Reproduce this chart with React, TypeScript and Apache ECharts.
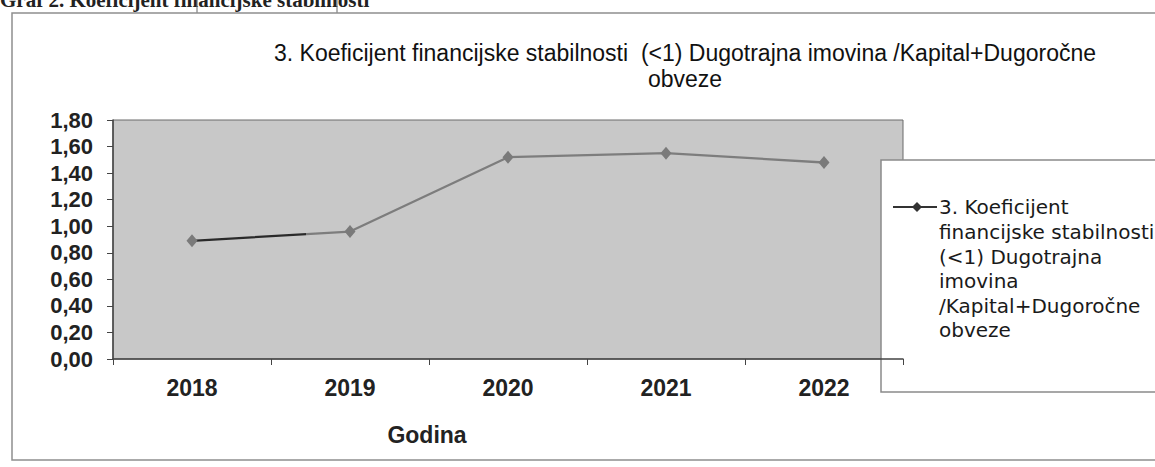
import React, { useEffect, useRef } from "react";
import * as echarts from "echarts";

const years = ["2018", "2019", "2020", "2021", "2022"];
const stability = [0.89, 0.96, 1.52, 1.55, 1.48];
const seriesName =
  "3. Koeficijent financijske stabilnosti  (<1) Dugotrajna imovina /Kapital+Dugoročne obveze";
const titleText =
  "3. Koeficijent financijske stabilnosti  (<1) Dugotrajna imovina /Kapital+Dugoročne\nobveze";
const legendLines = [
  "3. Koeficijent",
  "financijske stabilnosti",
  "(<1) Dugotrajna",
  "imovina",
  "/Kapital+Dugoročne",
  "obveze",
];
const pageCaption = "Graf 2. Koeficijent financijske stabilnosti";
const xAxisName = "Godina";

export default function App() {
  const ref = useRef<HTMLDivElement>(null);
  useEffect(() => {
    if (!ref.current) return;
    const chart = echarts.init(ref.current, null, { renderer: "svg" });
    const sans = "'Liberation Sans', Arial, sans-serif";
    chart.setOption({
      animation: false,
      backgroundColor: "#ffffff",
      title: [
        {
          text: titleText,
          left: 680,
          top: 35,
          textAlign: "center",
          textStyle: {
            fontFamily: sans,
            fontWeight: "normal",
            fontSize: 23,
            lineHeight: 26,
            color: "#111",
          },
        },
      ],
      grid: {
        left: 113,
        top: 120,
        width: 790,
        height: 239,
        show: true,
        backgroundColor: "#c8c8c8",
        borderColor: "#6a6a6a",
        borderWidth: 1,
      },
      xAxis: {
        type: "category",
        data: years,
        boundaryGap: true,
        name: xAxisName,
        nameLocation: "middle",
        nameGap: 64,
        nameTextStyle: {
          fontFamily: sans,
          fontWeight: "bold",
          fontSize: 23,
          color: "#222",
          padding: [0, 162, 0, 0],
        },
        axisLine: { show: true, lineStyle: { color: "#444", width: 1.5 } },
        axisTick: { show: true, length: 6, lineStyle: { color: "#444" } },
        axisLabel: {
          fontFamily: sans,
          fontWeight: "bold",
          fontSize: 23,
          color: "#222",
          margin: 17,
        },
        splitLine: { show: false },
      },
      yAxis: {
        type: "value",
        min: 0,
        max: 1.8,
        interval: 0.2,
        axisLine: { show: true, lineStyle: { color: "#444", width: 1.5 } },
        axisTick: { show: true, length: 6, lineStyle: { color: "#444" } },
        axisLabel: {
          fontFamily: sans,
          fontWeight: "bold",
          fontSize: 22,
          color: "#222",
          margin: 20,
          formatter: (v: number) => v.toFixed(2).replace(".", ","),
        },
        splitLine: { show: false },
      },
      series: [
        {
          name: seriesName,
          type: "line",
          data: stability,
          symbol: "diamond",
          symbolSize: [11, 13],
          itemStyle: { color: "#7a7a7a" },
          lineStyle: {
            width: 2.3,
            color: {
              type: "linear",
              x: 0,
              y: 0,
              x2: 1,
              y2: 0,
              colorStops: [
                { offset: 0, color: "#2a2a2a" },
                { offset: 0.18, color: "#2a2a2a" },
                { offset: 0.18, color: "#7d7d7d" },
                { offset: 1, color: "#7d7d7d" },
              ],
            },
          },
          z: 5,
        },
      ],
      graphic: [
        {
          type: "text",
          x: 0,
          y: 0,
          silent: true,
          style: {
            text: pageCaption,
            fontFamily: "'Liberation Serif', 'Times New Roman', serif",
            fontWeight: "bold",
            fontSize: 21,
            fill: "#222",
            verticalAlign: "middle",
          },
        },
        {
          type: "line",
          silent: true,
          shape: { x1: 197, y1: 0, x2: 197, y2: 13 },
          style: { stroke: "#666", lineWidth: 1 },
        },
        {
          type: "line",
          silent: true,
          shape: { x1: 337, y1: 0, x2: 337, y2: 13 },
          style: { stroke: "#666", lineWidth: 1 },
        },
        {
          type: "rect",
          shape: { x: 12, y: 13, width: 1200, height: 447 },
          style: { fill: "none", stroke: "#8f8f8f", lineWidth: 1.5 },
          z: 0,
          silent: true,
        },
        {
          type: "group",
          z: 10,
          children: [
            {
              type: "rect",
              shape: { x: 881, y: 160, width: 300, height: 232 },
              style: { fill: "#ffffff", stroke: "#8a8a8a", lineWidth: 1.5 },
            },
            {
              type: "line",
              shape: { x1: 893, y1: 207, x2: 937, y2: 207 },
              style: { stroke: "#333", lineWidth: 2 },
            },
            {
              type: "polygon",
              shape: {
                points: [
                  [917, 202],
                  [922, 207],
                  [917, 212],
                  [912, 207],
                ],
              },
              style: { fill: "#333" },
            },
            {
              type: "text",
              x: 939,
              y: 195,
              style: {
                text: legendLines.join("\n"),
                fontFamily: "'DejaVu Sans', sans-serif",
                fontSize: 20,
                lineHeight: 24.6,
                fill: "#1a1a1a",
                verticalAlign: "top",
              },
            },
          ],
        },
      ],
    });
    return () => chart.dispose();
  }, []);
  return (
    <div
      ref={ref}
      style={{ position: "absolute", left: 0, top: 0, width: 1155, height: 467 }}
    />
  );
}
